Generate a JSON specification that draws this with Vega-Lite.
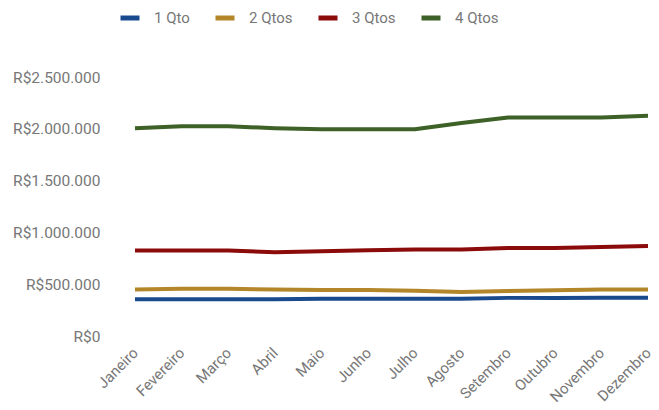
{
  "$schema": "https://vega.github.io/schema/vega-lite/v6.json",
  "autosize": "none",
  "width": 513,
  "height": 259,
  "padding": {"left": 135, "top": 77, "right": 11, "bottom": 74},
  "background": "white",
  "config": {"font": "Roboto", "view": {"stroke": null}},
  "data": {"values": [
    {"m": "Janeiro", "s": "1 Qto", "v": 354000},
    {"m": "Fevereiro", "s": "1 Qto", "v": 354000},
    {"m": "Março", "s": "1 Qto", "v": 354000},
    {"m": "Abril", "s": "1 Qto", "v": 354000},
    {"m": "Maio", "s": "1 Qto", "v": 360000},
    {"m": "Junho", "s": "1 Qto", "v": 360000},
    {"m": "Julho", "s": "1 Qto", "v": 360000},
    {"m": "Agosto", "s": "1 Qto", "v": 360000},
    {"m": "Setembro", "s": "1 Qto", "v": 368000},
    {"m": "Outubro", "s": "1 Qto", "v": 368000},
    {"m": "Novembro", "s": "1 Qto", "v": 369000},
    {"m": "Dezembro", "s": "1 Qto", "v": 369000},
    {"m": "Janeiro", "s": "2 Qtos", "v": 450000},
    {"m": "Fevereiro", "s": "2 Qtos", "v": 455000},
    {"m": "Março", "s": "2 Qtos", "v": 455000},
    {"m": "Abril", "s": "2 Qtos", "v": 450000},
    {"m": "Maio", "s": "2 Qtos", "v": 444000},
    {"m": "Junho", "s": "2 Qtos", "v": 443000},
    {"m": "Julho", "s": "2 Qtos", "v": 437000},
    {"m": "Agosto", "s": "2 Qtos", "v": 425000},
    {"m": "Setembro", "s": "2 Qtos", "v": 435000},
    {"m": "Outubro", "s": "2 Qtos", "v": 442000},
    {"m": "Novembro", "s": "2 Qtos", "v": 450000},
    {"m": "Dezembro", "s": "2 Qtos", "v": 450000},
    {"m": "Janeiro", "s": "3 Qtos", "v": 826000},
    {"m": "Fevereiro", "s": "3 Qtos", "v": 826000},
    {"m": "Março", "s": "3 Qtos", "v": 826000},
    {"m": "Abril", "s": "3 Qtos", "v": 808000},
    {"m": "Maio", "s": "3 Qtos", "v": 817000},
    {"m": "Junho", "s": "3 Qtos", "v": 827000},
    {"m": "Julho", "s": "3 Qtos", "v": 835000},
    {"m": "Agosto", "s": "3 Qtos", "v": 835000},
    {"m": "Setembro", "s": "3 Qtos", "v": 850000},
    {"m": "Outubro", "s": "3 Qtos", "v": 850000},
    {"m": "Novembro", "s": "3 Qtos", "v": 858000},
    {"m": "Dezembro", "s": "3 Qtos", "v": 868000},
    {"m": "Janeiro", "s": "4 Qtos", "v": 2006000},
    {"m": "Fevereiro", "s": "4 Qtos", "v": 2025000},
    {"m": "Março", "s": "4 Qtos", "v": 2025000},
    {"m": "Abril", "s": "4 Qtos", "v": 2006000},
    {"m": "Maio", "s": "4 Qtos", "v": 1996000},
    {"m": "Junho", "s": "4 Qtos", "v": 1996000},
    {"m": "Julho", "s": "4 Qtos", "v": 1996000},
    {"m": "Agosto", "s": "4 Qtos", "v": 2055000},
    {"m": "Setembro", "s": "4 Qtos", "v": 2109000},
    {"m": "Outubro", "s": "4 Qtos", "v": 2109000},
    {"m": "Novembro", "s": "4 Qtos", "v": 2109000},
    {"m": "Dezembro", "s": "4 Qtos", "v": 2125000}
  ]},
  "mark": {"type": "line", "strokeWidth": 4, "strokeJoin": "round", "strokeCap": "butt"},
  "encoding": {
    "x": {
      "field": "m", "type": "ordinal",
      "sort": ["Janeiro","Fevereiro","Março","Abril","Maio","Junho","Julho","Agosto","Setembro","Outubro","Novembro","Dezembro"],
      "scale": {"type": "point", "padding": 0},
      "axis": {
        "title": null, "domain": false, "ticks": false, "grid": false,
        "labelAngle": -45, "labelAlign": "right", "labelBaseline": "middle",
        "labelFontSize": 15, "labelColor": "#777777", "labelPadding": 14, "labelDx": 8,
        "labelOverlap": false, "labelBound": false
      }
    },
    "y": {
      "field": "v", "type": "quantitative",
      "scale": {"domain": [0, 2500000], "nice": false},
      "axis": {
        "title": null, "domain": false, "ticks": false, "grid": false,
        "values": [0, 500000, 1000000, 1500000, 2000000, 2500000],
        "labelExpr": "'R$' + replace(format(datum.value, ',d'), /,/g, '.')",
        "labelFontSize": 15.5, "labelColor": "#777777", "labelPadding": 35
      }
    },
    "color": {
      "field": "s", "type": "nominal",
      "scale": {"domain": ["1 Qto","2 Qtos","3 Qtos","4 Qtos"], "range": ["#1a4a8e","#b3862a","#8b0a0a","#3d6127"]},
      "legend": {
        "title": null, "orient": "none", "direction": "horizontal",
        "legendX": -17, "legendY": -71,
        "symbolType": "stroke", "symbolSize": 361,
        "symbolStrokeWidth": 5, "symbolOpacity": 1,
        "labelFontSize": 15, "labelColor": "#777777", "labelOffset": 12,
        "columnPadding": 15
      }
    }
  }
}
